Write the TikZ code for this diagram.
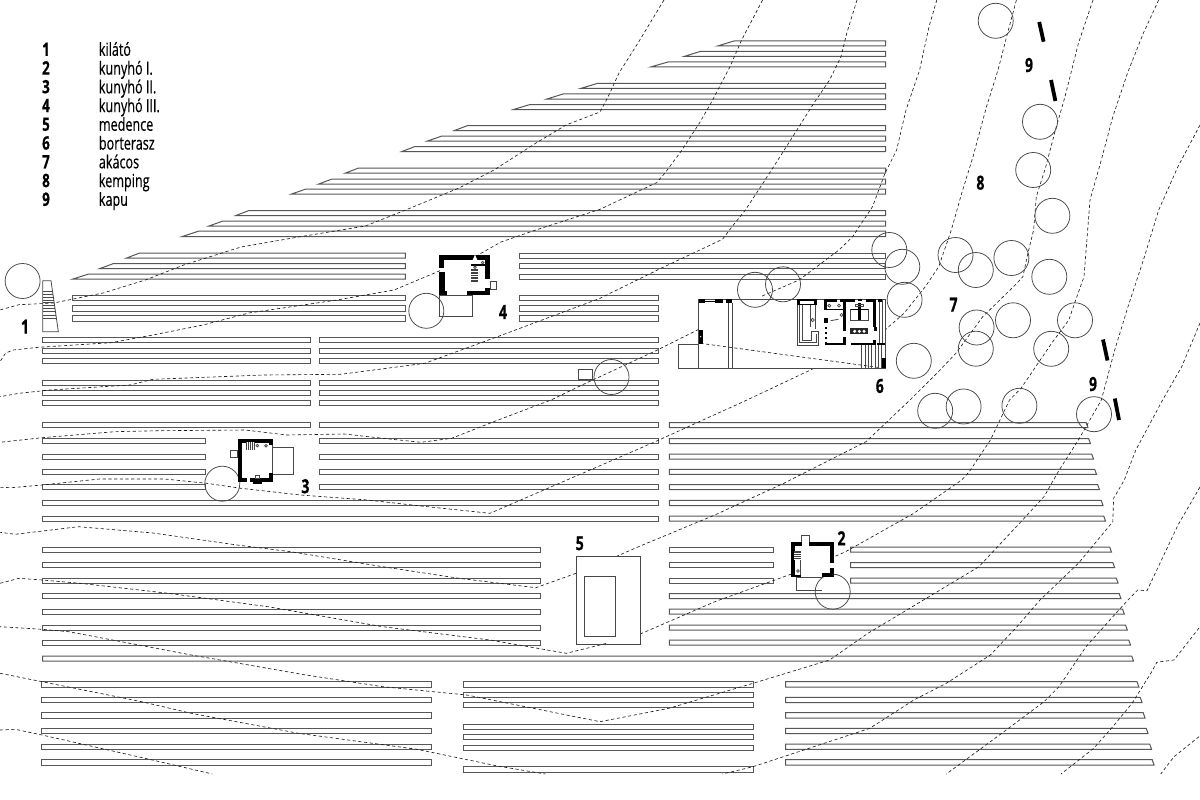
\documentclass[tikz,border=0pt]{standalone}
\usepackage{fontspec}
\setmainfont[FakeStretch=0.70,FakeBold=0.35]{Open Sans}
\newfontfamily\numfont[FakeStretch=0.72,FakeBold=0.6]{Open Sans Bold}
\newcommand{\rowbox}[4]{\draw[rowline] (#1,#2) rectangle (#3,#4);}
\newcommand{\slantrow}[4]{\draw[rowline] (#1,#2) -- ({#3-1.8},#2) -- (#3,#4) -- (#1,#4) -- cycle;}
\newcommand{\wedgerow}[5]{\draw[rowline] (#1,#4) -- (#2,#3) -- (#5,#3) -- (#5,#4) -- cycle;}
\newcommand{\tree}[2]{\draw[treeline] (#1,#2) circle (17.5);}
\tikzset{
  rowline/.style={draw=black!66,line width=1pt,line join=miter},
  treeline/.style={draw=black!72,line width=0.75pt},
  contour/.style={draw=black!90,line width=0.62pt,dash pattern=on 3.2pt off 2.5pt},
  gatebar/.style={draw=black,line width=3.8pt},
  thinwall/.style={draw=black!72,line width=0.8pt},
  wallfill/.style={fill=black,draw=none},
  legendnum/.style={font=\fontsize{18.5}{19}\numfont,anchor=base,inner sep=0pt},
  legendtxt/.style={font=\fontsize{18}{19}\selectfont,anchor=base west,inner sep=0pt},
  maplabel/.style={font=\fontsize{19.5}{20}\numfont,anchor=center,inner sep=0pt},
  zoomed/.style={x=0.33333pt,y=-0.33333pt}
}
\begin{document}
\begin{tikzpicture}[x=1pt,y=-1pt]
\useasboundingbox (0,0) rectangle (1200,800);
\fill[white] (0,0) rectangle (1200,800);

% --- wedge rows, upper block
\wedgerow{717.5}{734}{41}{46}{885.5}
\wedgerow{684}{700}{51.5}{56.5}{885.5}
\wedgerow{650.5}{668}{62}{67}{885.5}
\wedgerow{580.5}{597}{83.5}{88.5}{885.5}
\wedgerow{547}{563}{94}{99}{885.5}
\wedgerow{513.6}{530}{104.5}{109.5}{885.5}
\wedgerow{454.6}{467.7}{125.5}{130.5}{885.5}
\wedgerow{427.5}{442}{136}{141}{885.5}
\wedgerow{402}{415}{146.5}{151.5}{885.5}
\wedgerow{345.6}{358.6}{168}{173}{885.5}
\wedgerow{318.8}{332}{179}{184}{885.5}
\wedgerow{291.6}{306}{189}{194}{885.5}
\wedgerow{236}{249}{210.5}{215.5}{885.5}
\wedgerow{209}{223}{221}{226}{885.5}
\wedgerow{182.5}{199}{231}{236.5}{885.5}
\wedgerow{126.7}{139.7}{253}{258}{405.3}
\wedgerow{100}{113.7}{263.5}{268.5}{405.3}
\wedgerow{73}{88.8}{274}{279}{405.3}
\rowbox{519.3}{253}{885.5}{258}
\rowbox{519.3}{263.5}{885.5}{268.5}
\rowbox{519.3}{274}{885.5}{279}
% --- rows under the wedges
\foreach \ya/\yb in {295/300.3,305.7/311,315.7/321}{
  \rowbox{72}{\ya}{405.3}{\yb}
  \rowbox{519.3}{\ya}{658}{\yb}
}
\foreach \ya/\yb in {337.7/342.7,348/353,358.3/363.3,380.3/385.3,390.7/395.7,400.7/405.7,422.7/427.7}{
  \rowbox{42.5}{\ya}{310}{\yb}
  \rowbox{319}{\ya}{658}{\yb}
}
\foreach \ya/\yb in {438.7/443.7,454/459,469.3/474.3,484.7/489.7}{
  \rowbox{42.5}{\ya}{205}{\yb}
  \rowbox{319}{\ya}{658}{\yb}
}
\rowbox{42.5}{500.3}{658}{505.5}
\rowbox{42.5}{516}{658}{521}
% --- right block
\slantrow{669.3}{422.7}{1088}{427.7}
\slantrow{669.3}{438.7}{1090.5}{443.7}
\slantrow{669.3}{454}{1093.5}{459}
\slantrow{669.3}{469.3}{1096.5}{474.3}
\slantrow{669.3}{484.7}{1099.5}{489.7}
\slantrow{669.3}{500.3}{1103}{505.5}
\slantrow{669.3}{516}{1105.5}{521}
% --- middle band
\foreach \ya/\yb in {547/552.2,562.7/567.7,578/583,593.7/598.7,609/614,625/630,640/645}{
  \rowbox{42.5}{\ya}{540.4}{\yb}
}
\rowbox{669.3}{547}{773}{552.2}
\rowbox{669.3}{562.7}{773}{567.7}
\rowbox{669.3}{578}{773}{583}
\slantrow{850.5}{547}{1111.5}{552.2}
\slantrow{850.5}{562.7}{1114.7}{567.7}
\slantrow{850.5}{578}{1118}{583}
\slantrow{669.3}{593.7}{1121}{598.7}
\slantrow{669.3}{609}{1124.3}{614}
\slantrow{669.3}{625}{1127.3}{630}
\slantrow{669.3}{640}{1130.5}{645}
\slantrow{42.5}{656}{1133.5}{661}
% --- bottom band
\foreach \ya/\yb in {681.7/687,697.3/702.5,712.7/718,728.3/733.5,744/749.3,759.7/765}{
  \rowbox{41.5}{\ya}{431.3}{\yb}
}
\foreach \ya/\yb in {681.7/687,692.3/697.3,702.3/707.3,724.3/729.5,734.7/739.7,745/750.2,766.7/772}{
  \rowbox{463.4}{\ya}{753.5}{\yb}
}
\slantrow{785.6}{681.7}{1138.8}{687}
\slantrow{785.6}{697.3}{1142}{702.5}
\slantrow{785.6}{712.7}{1145}{718}
\slantrow{785.6}{728.3}{1148}{733.5}
\slantrow{785.6}{744}{1151.5}{749.3}
\slantrow{785.6}{759.7}{1154}{765}

% --- contour lines
\draw[contour] (664,0)--(638,43)--(619,73)--(608,97)--(600,112)--(566,125)--(536,143)--(494,170)--(459,188)--(405.6,210)--(365.5,226)--(298.5,237)--(241,247)--(183.7,265)--(145.4,280)--(103,293)--(53.6,303)--(19,304.7)--(0,310);
\draw[contour] (762.6,0)--(741.6,40)--(730,66.7)--(711,103)--(699.5,123)--(682,150)--(665,173)--(656.6,182.7)--(600,209.3)--(535.8,230)--(501,242)--(478,255);
\draw[contour] (440,270.7)--(394,290)--(337,300)--(248.8,313)--(203,325)--(153,335)--(111,342.7)--(38.3,347.3)--(13.4,350)--(5.7,353)--(0,361.7);
\draw[contour] (857,0)--(846.8,33)--(841,56.7)--(829.6,80)--(814,103)--(795,133)--(780,156.7)--(760.7,186.7)--(745.4,210)--(732,226.7)--(722.5,239.3)--(657.4,270)--(600,298.3)--(497.5,336.7)--(424.8,363.3)--(340.6,374.3)--(264,375)--(153,379.3)--(130,385)--(50,390)--(19,393.3)--(0,396.7);
\draw[contour] (936.8,0)--(929,26.7)--(919.6,70)--(906,110)--(896.6,150)--(885,173.3)--(872.5,206.7)--(852.6,236.7)--(839,250)--(799,280)--(760.7,296.7);
\draw[contour] (698.7,329.3)--(657.4,350)--(600,376.7)--(585.5,383.3)--(551,400)--(493.7,421.7)--(451.6,438.3)--(421,442.3)--(382.7,438.3)--(344.4,434)--(287,435)--(245,430)--(160.7,430.7)--(114.8,431.7)--(42,437.7)--(0,442.3);
\draw[contour] (1016.4,0)--(1007.6,33)--(998,70)--(986.5,106.7)--(973,156.7)--(961.7,193.3)--(951.3,230)--(938.7,266.7)--(925.3,286.7)--(904,313.3)--(885,330);
\draw[contour] (700.3,343.3)--(885,368.3);
\draw[contour] (814,368.3)--(747,400)--(657.4,440.7)--(600,465.7)--(490,513.3)--(421,506)--(367.4,500)--(300.4,495)--(241,488.3)--(206.7,483.3)--(164.6,479)--(99.5,479)--(42,485)--(11.5,487.7)--(0,487.3);
\draw[contour] (1093,0)--(1078.4,43.3)--(1065,96.7)--(1055.4,130)--(1045.8,166.7)--(1036.3,196.7)--(1033.6,230)--(1027.9,253.3)--(1022.9,276.7)--(1015.2,285)--(982.7,316.7)--(955.9,353.3)--(936.8,373.3)--(910,400)--(866,441.7)--(783.7,483.3)--(714.8,515)--(640.2,546)--(617.2,556);
\draw[contour] (576,573.3)--(535.8,587.7)--(459,578.3)--(382.7,566.7)--(290.8,551.7)--(237,545)--(153,533)--(78.5,526.7)--(15.3,534.3)--(0,532.3);
\draw[contour] (1158.7,0)--(1143.4,33)--(1128,71.7)--(1112.8,116.7)--(1101.3,160)--(1090,200)--(1084,276.7)--(1074.5,303.3)--(1068.8,320)--(1051.6,343.3)--(1021,388.3)--(1009.5,400)--(990.4,440)--(969.3,471.7)--(961.7,480)--(913.8,513.3)--(845,552)--(834.2,556.7);
\draw[contour] (791.4,574)--(714.8,601.7)--(640.2,634);
\draw[contour] (606,643.5)--(566.4,653.3)--(490,640)--(382.7,626.7)--(267.9,606.7)--(168.4,593.3)--(80.4,583.3)--(42,580)--(19,578.3)--(0,583.3);
\draw[contour] (1200,125)--(1177.9,166.7)--(1158.7,210)--(1143.4,260)--(1128,306.7)--(1114.7,350)--(1101.3,400)--(1078.4,440)--(1059.2,470)--(1044,496.7)--(1021,521.7)--(978.9,566.7)--(929,596.7)--(867.9,633.3)--(829.6,660)--(753,683.3)--(668.9,708.3)--(600,721.7)--(466.9,695)--(382.7,686.7)--(306,675)--(191.3,655)--(68.9,631.7)--(42,629.3)--(0,626.7);
\draw[contour] (1200,323)--(1181.7,366.7)--(1162.6,400)--(1135.8,450)--(1124.3,480)--(1113.6,498.3)--(1112.8,521.7)--(1078.4,563.3)--(1040,600)--(1017,626.7)--(990.4,655)--(946.3,683.3)--(913.8,700)--(869.8,728.3)--(753,766.7)--(722.5,774);
\draw[contour] (0,673.3)--(42,681.7)--(141.6,701.7)--(191.3,713.3)--(298.5,733.3)--(417.1,749.3)--(497.5,766)--(545.4,774);
\draw[contour] (0,730)--(15.3,729.3)--(42,735)--(149.3,759.3)--(212.4,774);
\draw[contour] (1200,487)--(1178,525)--(1147,590.7)--(1137.7,590)--(1128,600)--(1112.8,616.7)--(1086,646.7)--(1059,686.7)--(1044,701.7)--(1001.8,733.3)--(946.3,774);
\draw[contour] (1199,628)--(1174,660)--(1156.8,662.3)--(1151,673)--(1132,703.3)--(1112.8,726.7)--(1093.7,748.3)--(1061,774);
\draw[contour] (1199,736.7)--(1174,756.7)--(1160.7,774);

% --- trees
\tree{22.6}{281}\tree{426.3}{310.8}\tree{611.5}{377}
\tree{995.7}{20.8}\tree{1040}{121.8}\tree{1033.2}{170}\tree{1052.4}{215.8}
\tree{1011.4}{258}\tree{1049.3}{276.8}\tree{955.5}{255}\tree{975.8}{270}
\tree{889.3}{250}\tree{902.3}{266.8}\tree{904.6}{299.8}\tree{755}{289.8}\tree{783}{284.3}
\tree{976.6}{327.5}\tree{1013}{320.3}\tree{975.8}{348.7}\tree{1075}{320.3}\tree{1051.2}{348.8}
\tree{913.8}{360.8}\tree{935.2}{410.8}\tree{963.6}{406.5}\tree{1019.4}{405.8}\tree{1094}{414.2}
\tree{222.3}{483.7}\tree{832.7}{591.7}

% --- gates
\draw[gatebar] (1039.2,22)--(1043.6,41.7);
\draw[gatebar] (1051,80)--(1055.4,101);
\draw[gatebar] (1103,339.5)--(1107.5,360.5);
\draw[gatebar] (1114.8,398.5)--(1119,420);

% --- pool
\draw[thinwall] (576,556.7) rectangle (640.2,644.3);
\draw[thinwall] (584.8,576.7) rectangle (615.3,636.7);
\draw[thinwall] (578,369.3) rectangle (592,379);

% --- tower
\begin{scope}[shift={(0,250)},zoomed]
\draw[thinwall] (128,92)--(153,92)--(175,245)--(128,245)--cycle;
\foreach \yy/\xx in {125/158,133/159,141/160,150/161,158/162,167/164,176/165,185/166,197/168,205/169}{
  \draw[draw=black!70,line width=0.6pt] (128,\yy)--(\xx,\yy);
}
\end{scope}

% --- hut 4
\begin{scope}[shift={(400,240)},zoomed]
\draw[thinwall] (118,165) rectangle (218,229);
\draw[thinwall] (270,123) rectangle (290,147);
\fill[wallfill] (118,45) rectangle (270,60);
\fill[wallfill] (118,58) rectangle (132,85);
\fill[wallfill] (118,95) rectangle (134,165);
\fill[wallfill] (118,152) rectangle (140,165);
\fill[wallfill] (200,153) rectangle (270,165);
\fill[wallfill] (256,45) rectangle (270,118);
\fill[wallfill] (254,145) rectangle (270,165);
\fill[wallfill] (212,73) rectangle (258,78);
\fill[white] (218,60)--(225,44)--(232,60)--cycle;
\fill[black!75] (212,88) rectangle (233,125);
\foreach \yy in {94,102,110,118}{\draw[white,line width=0.6pt] (212,\yy)--(233,\yy);}
\draw[thinwall] (248,68) circle (4);
\draw[thinwall] (225,82) circle (4);
\end{scope}

% --- hut 3
\begin{scope}[shift={(200,425)},zoomed]
\draw[thinwall] (218,68)--(281,68)--(281,148)--(218,148);
\draw[thinwall] (90,77) rectangle (113,97);
\draw[thinwall] (218,60)--(218,145);
\fill[wallfill] (113,42) rectangle (218,54);
\fill[wallfill] (113,42) rectangle (127,97);
\fill[wallfill] (113,97) rectangle (125,172);
\fill[wallfill] (113,160) rectangle (140,172);
\fill[wallfill] (150,160) rectangle (218,171);
\fill[wallfill] (160,170) rectangle (185,177);
\fill[wallfill] (206,42) rectangle (218,60);
\fill[wallfill] (207,145) rectangle (218,172);
\fill[black!75] (137,52) rectangle (165,75);
\foreach \xx in {143,149,155,161}{\draw[white,line width=0.5pt] (\xx,52)--(\xx,75);}
\draw[thinwall] (172,62) circle (4);
\draw[thinwall] (198,62) circle (4);
\draw[thinwall] (167,150) rectangle (178,160);
\end{scope}

% --- hut 2
\begin{scope}[shift={(770,525)},zoomed]
\draw[thinwall] (94,52)--(94,30)--(118,30)--(118,52);
\draw[thinwall] (78,157)--(78,195)--(155,195);
\draw[thinwall] (78,157)--(155,157);
\draw[thinwall] (92,78)--(92,150);
\fill[wallfill] (62,52) rectangle (95,64);
\fill[wallfill] (118,52) rectangle (192,64);
\fill[wallfill] (62,52) rectangle (74,157);
\fill[wallfill] (62,150) rectangle (92,157);
\fill[wallfill] (180,52) rectangle (192,115);
\fill[wallfill] (180,130) rectangle (192,157);
\fill[wallfill] (157,143) rectangle (192,157);
\fill[black!75] (72,78) rectangle (92,105);
\foreach \yy in {84,90,96,102}{\draw[white,line width=0.5pt] (72,\yy)--(92,\yy);}
\draw[thinwall] (84,138) circle (4);
\end{scope}

% --- wine terrace, shell
\begin{scope}[shift={(670,280)},zoomed]
\draw[thinwall] (86,57)--(645,57)--(645,265)--(24,265)--(24,192)--(86,192);
\draw[thinwall] (86,57)--(86,265);
\draw[thinwall] (176,68)--(176,265);
\draw[thinwall] (187,68)--(187,265);
\fill[wallfill] (86,57) rectangle (105,68);
\fill[wallfill] (105,62) rectangle (135,66);
\fill[wallfill] (135,57) rectangle (160,68);
\fill[wallfill] (167,57) rectangle (187,68);
\fill[wallfill] (86,150) rectangle (98,192);
\fill[white] (92,170) circle (2);
\end{scope}
% --- wine terrace, rooms
\begin{scope}[shift={(790,290)},zoomed]
% spa block
\fill[wallfill] (22,27) rectangle (82,45);
\fill[white] (31,34) rectangle (73,43);
\draw[thinwall] (22,45)--(22,165)--(85,165)--(85,125)--(65,125)--(65,150)--(38,150)--(38,45);
\draw[thinwall] (29,45)--(29,158)--(78,158)--(78,132);
\draw[thinwall] (60,45)--(60,112);
\draw[thinwall] (75,45)--(75,118);
\draw[thinwall] (68,90) circle (5);
% middle rooms
\fill[wallfill] (103,27) rectangle (111,60);
\fill[wallfill] (103,27) rectangle (140,35);
\fill[wallfill] (103,85) rectangle (113,100);
\foreach \yy in {112,125,140}{\fill[wallfill] (105,\yy) rectangle (112,{\yy+6});}
\fill[wallfill] (105,155) rectangle (112,165);
\fill[wallfill] (105,158) rectangle (167,165);
\fill[wallfill] (111,57) rectangle (162,61);
\fill[wallfill] (150,27) rectangle (195,35);
\fill[wallfill] (160,27) rectangle (168,122);
\fill[wallfill] (160,140) rectangle (168,165);
\draw[thinwall] (122,92)--(145,88);
\draw[thinwall] (118,47) circle (4.5);
\draw[thinwall] (147,47) circle (4.5);
\draw[thinwall] (155,75) circle (4.5);
% right room
\fill[wallfill] (205,27) rectangle (216,33);
\fill[wallfill] (228,27) rectangle (258,35);
\fill[wallfill] (250,27) rectangle (258,110);
\fill[wallfill] (252,112) rectangle (262,122);
\fill[wallfill] (250,150) rectangle (258,165);
\fill[wallfill] (183,158) rectangle (258,165);
\fill[wallfill] (204,38) rectangle (212,90);
\draw[line width=1.1pt,draw=black] (182,58)--(235,58);
\draw[thinwall] (182,58)--(182,92)--(235,92)--(235,58);
\draw[thinwall] (195,44) rectangle (220,49);
\fill[black!85] (180,115) rectangle (235,133);
\foreach \xx in {194,208,222}{\fill[white] (\xx,124) circle (5);}
% strip and steps
\fill[wallfill] (265,27) rectangle (275,37);
\draw[thinwall] (267,37)--(267,165);
\draw[thinwall] (277,30)--(277,165);
\fill[wallfill] (262,158) rectangle (285,164);
\foreach \xx in {215,225,235,245,255,265,275}{\draw[thinwall] (\xx,165)--(\xx,235);}
\fill[wallfill] (275,205) rectangle (287,235);
\end{scope}

% --- legend
\node[legendnum] (n1) at (46,55.8) {1};
\node[legendnum] (n2) at (46,74.6) {2};
\node[legendnum] (n3) at (46,93.3) {3};
\node[legendnum] (n4) at (46,112.1) {4};
\node[legendnum] (n5) at (46,130.8) {5};
\node[legendnum] (n6) at (46,149.6) {6};
\node[legendnum] (n7) at (46,168.3) {7};
\node[legendnum] (n8) at (46,187.1) {8};
\node[legendnum] (n9) at (46,205.8) {9};
\node[legendtxt] (t1) at (98.7,55.8) {kilátó};
\node[legendtxt] (t2) at (98.7,74.6) {kunyhó I.};
\node[legendtxt] (t3) at (98.7,93.3) {kunyhó II.};
\node[legendtxt] (t4) at (98.7,112.1) {kunyhó III.};
\node[legendtxt] (t5) at (98.7,130.8) {medence};
\node[legendtxt] (t6) at (98.7,149.6) {borterasz};
\node[legendtxt] (t7) at (98.7,168.3) {akácos};
\node[legendtxt] (t8) at (98.7,187.1) {kemping};
\node[legendtxt] (t9) at (98.7,205.8) {kapu};

% --- map labels
\node[maplabel] (m1) at (25,326.7) {1};
\node[maplabel] (m2) at (841.5,538.3) {2};
\node[maplabel] (m3) at (305.4,486.3) {3};
\node[maplabel] (m4) at (503,312) {4};
\node[maplabel] (m5) at (579.8,543.3) {5};
\node[maplabel] (m6) at (879.8,386) {6};
\node[maplabel] (m7) at (953.6,304.7) {7};
\node[maplabel] (m8) at (980.4,182.7) {8};
\node[maplabel] (m9a) at (1029,65) {9};
\node[maplabel] (m9b) at (1093,384) {9};
\end{tikzpicture}
\end{document}
